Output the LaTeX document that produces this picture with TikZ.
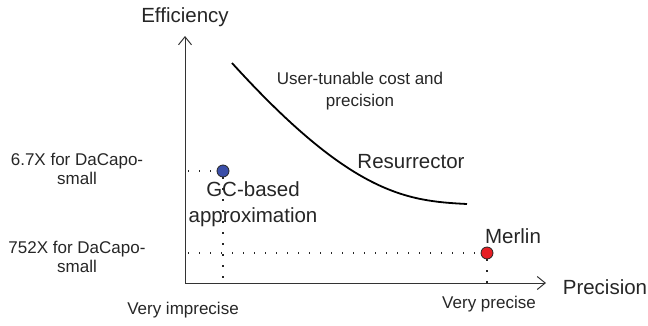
\documentclass[tikz,border=0pt]{standalone}
\usepackage{fontspec}
\setmainfont{Liberation Sans}
\usetikzlibrary{arrows.meta}
\begin{document}
\begin{tikzpicture}[x=1pt,y=-1pt,
  axis/.style={line width=1pt, draw=black!80, -{Straight Barb[length=8pt,width=13pt,line width=1pt]}},
  dotline/.style={line width=1.3pt, dash pattern=on 1.3pt off 9.7pt, draw=black!85},
  pt/.style={circle, draw=black!85, line width=0.8pt, minimum size=12pt, inner sep=0pt},
  lbl/.style={font=\fontsize{20.5}{22}\selectfont, text=black!85, inner sep=0pt},
  small/.style={font=\fontsize{17}{19.5}\selectfont, text=black!85, inner sep=0pt, align=center},
  mid/.style={font=\fontsize{17}{22}\selectfont, text=black!85, inner sep=0pt, align=center}]
\useasboundingbox (0,0) rectangle (648,325);
\coordinate (O) at (185,283);
\coordinate (ytop) at (185,36);
\coordinate (xend) at (546,283);
\draw[axis] (O) -- (ytop);
\draw[axis] (O) -- (xend);
\node[lbl] (eff) at (185,17) {Efficiency};
\node[lbl] (prec) at (605,287) {Precision};
\node[small] (vimp) at (183,310) {Very imprecise};
\node[small] (vpre) at (489,304) {Very precise};
% curve
\coordinate (c0) at (232,63);
\coordinate (c1) at (467,204);
\draw[line width=1.8pt] (c0) .. controls (352,195) and (407,201) .. (c1);
\node[mid] (user) at (360,91) {User-tunable cost and\\precision};
\node[lbl] (res) at (411,162) {Resurrector};
% points
\node[pt, fill={rgb,255:red,58;green,78;blue,168}] (gc) at (223,171) {};
\node[pt, fill={rgb,255:red,230;green,30;blue,36}] (mer) at (487,253) {};
\draw[dotline] (O |- gc) ++(3,0) coordinate (gch) -- (gc.west);
\draw[dotline] (gc.south) -- (gc |- O);
\draw[dotline] (O |- mer) ++(3,0) coordinate (mh) -- (mer.west);
\draw[dotline] (mer.south) -- (mer |- O);
\node[lbl, align=center, font=\fontsize{20.5}{26}\selectfont] (gcl) at (253,204) {GC-based\\approximation};
\node[lbl] (merl) at (513,236) {Merlin};
\node[small] (l1) at (77,169) {6.7X for DaCapo-\\small};
\node[small] (l2) at (77,257) {752X for DaCapo-\\small};
\end{tikzpicture}
\end{document}
